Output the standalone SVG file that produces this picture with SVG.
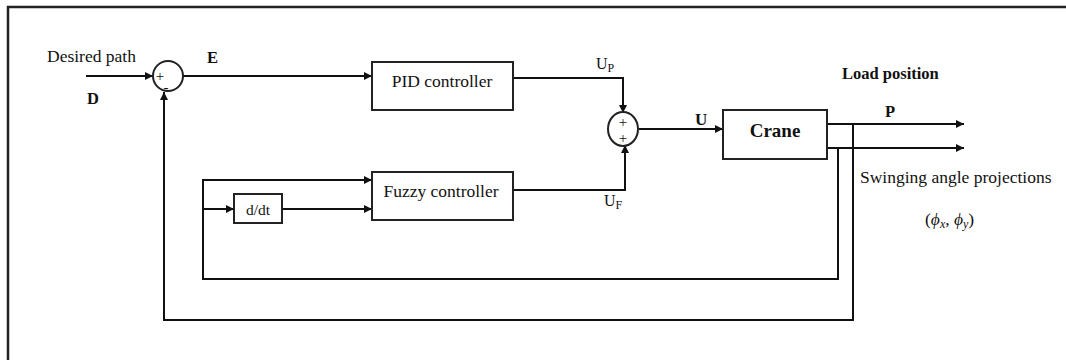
<svg xmlns="http://www.w3.org/2000/svg" width="1066" height="360" viewBox="0 0 1066 360">
<style>
.ln{fill:none;stroke:#111;stroke-width:2}
.bx{fill:#fff;stroke:#222;stroke-width:2}
.t{font-family:"Liberation Serif","Times New Roman",serif;font-size:17.5px;fill:#111}
.b{font-weight:bold}
.s{font-family:"Liberation Serif","Times New Roman",serif;font-size:15px;fill:#111}
</style>
<defs>
<marker id="ar" viewBox="0 0 10 10" refX="10" refY="5" markerWidth="10" markerHeight="8" markerUnits="userSpaceOnUse" orient="auto">
<path d="M0,0 L10,5 L0,10 z" fill="#111"/>
</marker>
</defs>
<rect width="1066" height="360" fill="#fff"/>
<g id="frame">
<path d="M8,360 V7 H1066" fill="none" stroke="#222" stroke-width="2.5"/>
</g>
<g id="connectors">
<path class="ln" d="M86,76 H153" marker-end="url(#ar)"/>
<path class="ln" d="M183,76 H372" marker-end="url(#ar)"/>
<path class="ln" d="M513,78 H623 V113" marker-end="url(#ar)"/>
<path class="ln" d="M513,190 H625 V145" marker-end="url(#ar)"/>
<path class="ln" d="M639,129 H723" marker-end="url(#ar)"/>
<path class="ln" d="M827,124 H964" marker-end="url(#ar)"/>
<path class="ln" d="M827,148 H964" marker-end="url(#ar)"/>
<path class="ln" d="M853,124 V320 H164 V92" marker-end="url(#ar)"/>
<path class="ln" d="M838,148 V279 H203 V180 H372" marker-end="url(#ar)"/>
<path class="ln" d="M203,209 H234" marker-end="url(#ar)"/>
<path class="ln" d="M282,209 H372" marker-end="url(#ar)"/>
</g>
<g id="sum1">
<circle cx="168" cy="76" r="15" class="bx" stroke-width="1.5"/>
<text class="s" x="160" y="81" text-anchor="middle">+</text>
<text class="s" x="166" y="92" text-anchor="middle">-</text>
</g>
<g id="sum2">
<ellipse cx="623" cy="129" rx="15" ry="17" class="bx" stroke-width="1.5"/>
<text class="s" x="623" y="127" text-anchor="middle">+</text>
<text class="s" x="623" y="143" text-anchor="middle">+</text>
</g>
<g id="pid">
<rect x="372" y="62" width="141" height="48" class="bx"/>
<text class="t" x="442" y="87" text-anchor="middle">PID controller</text>
</g>
<g id="fuzzy">
<rect x="372" y="172" width="141" height="48" class="bx"/>
<text class="t" x="441" y="197" text-anchor="middle">Fuzzy controller</text>
</g>
<g id="ddt">
<rect x="234" y="194" width="48" height="29" class="bx"/>
<text class="t" x="258" y="215" text-anchor="middle" style="font-size:15.5px">d/dt</text>
</g>
<g id="crane">
<rect x="723" y="110" width="104" height="49" class="bx"/>
<text class="t b" x="775" y="137" text-anchor="middle" style="font-size:19px">Crane</text>
</g>
<g id="labels">
<text class="t" x="47" y="62">Desired path</text>
<text class="t b" x="87" y="104" style="font-size:16.5px">D</text>
<text class="t b" x="207" y="63" style="font-size:16.5px">E</text>
<text class="t" x="596" y="69" style="font-size:16px">U<tspan font-size="12" dy="3">P</tspan></text>
<text class="t" x="604" y="206" style="font-size:16px">U<tspan font-size="12" dy="3">F</tspan></text>
<text class="t b" x="695" y="125" style="font-size:17px">U</text>
<text class="t b" x="842" y="79" style="font-size:16.5px">Load position</text>
<text class="t b" x="885" y="117" style="font-size:16.5px">P</text>
<text class="t" x="860" y="183">Swinging angle projections</text>
<text class="t" x="925" y="225">(<tspan font-style="italic">ϕ</tspan><tspan font-style="italic" font-size="12" dy="3">x</tspan><tspan dy="-3">, </tspan><tspan font-style="italic">ϕ</tspan><tspan font-style="italic" font-size="12" dy="3">y</tspan><tspan dy="-3">)</tspan></text>
</g>
</svg>
